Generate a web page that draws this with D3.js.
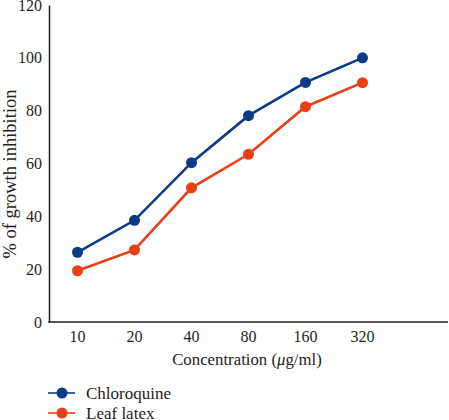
<!DOCTYPE html>
<html><head><meta charset="utf-8">
<script src="https://cdn.jsdelivr.net/npm/d3@7"></script>
<style>body{margin:0;background:#fff}svg{display:block}text{font-family:"Liberation Serif","Times New Roman",serif;fill:#231f20}</style>
</head><body><svg id="c" width="449" height="420"></svg>
<script>
const categories = ["10","20","40","80","160","320"];
const chloroquine = [26.4, 38.5, 60.3, 78.1, 90.7, 100.0];
const leafLatex = [19.4, 27.3, 50.8, 63.5, 81.5, 90.6];
const yTicks = [0,20,40,60,80,100,120];
const seriesNames = ["Chloroquine","Leaf latex"];
const colors = ["#0b3a87","#ea3e16"];

const svg = d3.select("#c");
const x = d3.scaleBand().domain(categories).range([49, 49+57*6]);
const y = d3.scaleLinear().domain([0,120]).range([322, 5]);

// y axis
const ya = svg.append("g").attr("transform","translate(49,0)")
  .call(d3.axisLeft(y).tickValues(yTicks).tickSize(0).tickPadding(7));
ya.select(".domain").attr("stroke","#231f20").attr("stroke-width",1.5);
ya.selectAll("text").attr("font-size",16).style("font-family","'Liberation Serif',serif").attr("fill","#231f20");

// x axis
const xa = svg.append("g").attr("transform","translate(0,322)")
  .call(d3.axisBottom(x).tickSize(0).tickPadding(9));
xa.select(".domain").remove();
xa.selectAll("text").attr("font-size",16).style("font-family","'Liberation Serif',serif").attr("fill","#231f20");
svg.append("line").attr("x1",48.25).attr("x2",448).attr("y1",322).attr("y2",322)
  .attr("stroke","#231f20").attr("stroke-width",1.5);

// titles
svg.append("text").attr("x",247).attr("y",365).attr("text-anchor","middle")
  .attr("font-size",16.8).html("Concentration (<tspan font-style='italic'>μ</tspan>g/ml)");
svg.append("text").attr("transform","translate(16,174) rotate(-90)").attr("text-anchor","middle")
  .attr("font-size",18.5).text("% of growth inhibition");

const data = [chloroquine, leafLatex];
const line = d3.line().x((d,i)=>x(categories[i])+x.bandwidth()/2).y(d=>y(d));
data.forEach((vals,k)=>{
  svg.append("path").datum(vals).attr("d",line).attr("fill","none")
    .attr("stroke",colors[k]).attr("stroke-width",2.6);
  svg.selectAll(null).data(vals).enter().append("circle")
    .attr("cx",(d,i)=>x(categories[i])+x.bandwidth()/2).attr("cy",d=>y(d))
    .attr("r",5.5).attr("fill",colors[k]);
});

// legend
seriesNames.forEach((n,k)=>{
  const ly = 393 + k*20;
  svg.append("line").attr("x1",48).attr("x2",75).attr("y1",ly).attr("y2",ly)
    .attr("stroke",colors[k]).attr("stroke-width",1.6);
  svg.append("circle").attr("cx",62).attr("cy",ly).attr("r",5.5).attr("fill",colors[k]);
  svg.append("text").attr("x",86).attr("y",ly+5.5).attr("font-size",17).text(n);
});
</script></body></html>
